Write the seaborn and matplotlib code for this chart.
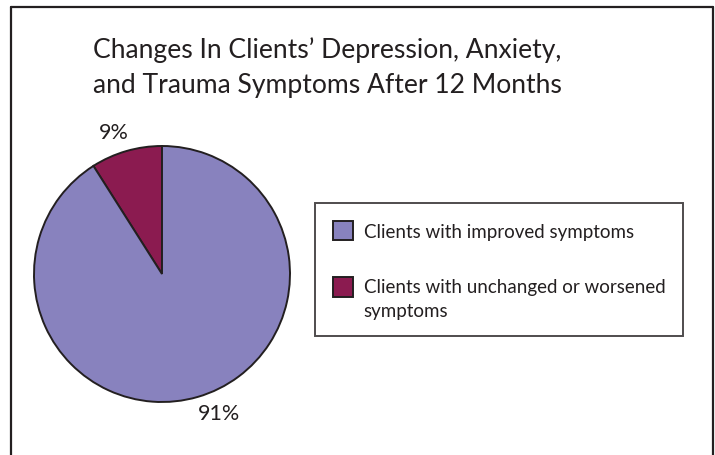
import matplotlib
matplotlib.use("Agg")
import numpy as np
import matplotlib.pyplot as plt
from matplotlib.lines import Line2D
from matplotlib.patches import Patch, Rectangle
from matplotlib.legend_handler import HandlerPatch
import seaborn as sns

# Data
categories = ["Clients with unchanged or worsened\nsymptoms", "Clients with improved symptoms"]
values = [9, 91]
colors = ["#8B1B50", "#8882BE"]
title_text = "Changes In Clients\u2019 Depression, Anxiety,\nand Trauma Symptoms After 12 Months"

sns.set_theme(style="white")
plt.rcParams["font.family"] = ["Lato", "DejaVu Sans"]

W, H = 715, 456
fig = plt.figure(figsize=(W / 100, H / 100), dpi=100)
fig.patch.set_facecolor("white")

# pie axes: center (162, 275) px, radius 128 px
cx, cy, r = 162, 275, 128
ax = fig.add_axes([(cx - r) / W, (H - cy - r) / H, 2 * r / W, 2 * r / H])
edge = "#231F20"
wedges, texts, autotexts = ax.pie(
    values, colors=colors, startangle=90, counterclock=True,
    autopct="%.0f%%", pctdistance=1.17,
    wedgeprops=dict(edgecolor=edge, linewidth=1.4),
    textprops=dict(fontsize=15.5, color="#231F20"),
)
ax.set_xlim(-1, 1)
ax.set_ylim(-1, 1)
ax.set_aspect("equal")
ax.axis("off")
for w in wedges:
    w.set_clip_on(False)
# rotate label positions slightly counter-clockwise, as in the reference
for t, deg in zip(autotexts, [2.5, 6.0]):
    rot = np.deg2rad(deg)
    x, y = t.get_position()
    t.set_position((x * np.cos(rot) - y * np.sin(rot), x * np.sin(rot) + y * np.cos(rot)))
    t.set_clip_on(False)

# title
fig.text(93 / W, 1 - 37 / H, title_text, ha="left", va="top",
         fontsize=19.1, color="#231F20", linespacing=1.5)


class TopHandler(HandlerPatch):
    def __init__(self, shift=0.0, **kw):
        super().__init__(**kw)
        self.shift = shift

    def create_artists(self, legend, orig_handle, xdescent, ydescent,
                       width, height, fontsize, trans):
        p = Rectangle((-xdescent, -ydescent + self.shift), width, height,
                      facecolor=orig_handle.get_facecolor(),
                      edgecolor=orig_handle.get_edgecolor(),
                      linewidth=orig_handle.get_linewidth(), transform=trans)
        return [p]


# legend (improved first)
h_imp = Patch(facecolor=colors[1], edgecolor=edge, linewidth=1.4)
h_wor = Patch(facecolor=colors[0], edgecolor=edge, linewidth=1.4)
leg = fig.legend([h_imp, h_wor], [categories[1], categories[0]], loc="upper left",
                 bbox_to_anchor=(315 / W, 1 - 204 / H),
                 frameon=True, fancybox=False, fontsize=13.5,
                 handlelength=1.05, handleheight=1.2, handletextpad=0.6,
                 labelspacing=2.0, borderpad=0.95, borderaxespad=0,
                 labelcolor="#231F20",
                 handler_map={h_imp: TopHandler(0.0), h_wor: TopHandler(8.5)})
for t in leg.get_texts():
    t.set_linespacing(1.5)
leg.get_frame().set_edgecolor(edge)
leg.get_frame().set_linewidth(1.4)

# outer frame (left, top, right)
lw = 1.6
fig.add_artist(Line2D([11 / W, 11 / W], [0, 1 - 8 / H], transform=fig.transFigure, color=edge, lw=lw))
fig.add_artist(Line2D([11 / W, 713 / W], [1 - 8 / H, 1 - 8 / H], transform=fig.transFigure, color=edge, lw=lw))
fig.add_artist(Line2D([713 / W, 713 / W], [0, 1 - 8 / H], transform=fig.transFigure, color=edge, lw=lw))

fig.savefig("out.png", dpi=100, facecolor="white")
